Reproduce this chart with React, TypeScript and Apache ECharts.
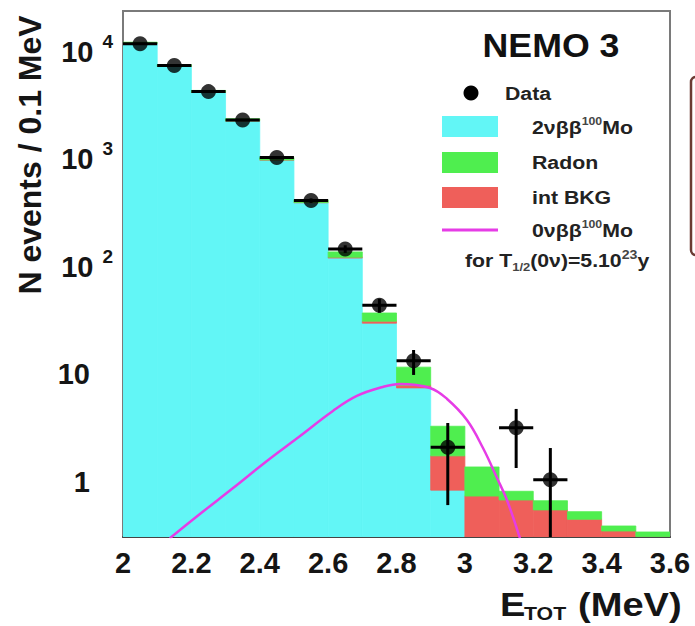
import React, { useEffect, useRef } from "react";
import * as echarts from "echarts";

// ---- Data ----
const binStart = [2.0, 2.1, 2.2, 2.3, 2.4, 2.5, 2.6, 2.7, 2.8, 2.9, 3.0, 3.1, 3.2, 3.3, 3.4, 3.5];
const BIN_W = 0.1;
// 2vbb 100Mo component (bottom of stack)
const mo2nu = [12000, 7350, 4200, 2280, 985, 395, 121, 30, 7.5, 0.84, 0, 0, 0, 0, 0, 0];
// internal background (middle of stack)
const intBkg = [20, 15, 10, 8, 5, 3, 2, 1.3, 0.46, 0.91, 0.74, 0.68, 0.55, 0.45, 0.35, 0.31];
// radon (top of stack)
const radon = [280, 235, 170, 100, 50, 22, 15, 6, 3.74, 1.55, 0.64, 0.14, 0.12, 0.08, 0.04, 0.033];

// Data points
const dataX = [2.05, 2.15, 2.25, 2.35, 2.45, 2.55, 2.65, 2.75, 2.85, 2.95, 3.15, 3.25];
const dataY = [11900, 7460, 4270, 2330, 1040, 414, 147, 44, 13.4, 2.1, 3.2, 1.05];
const dataLo = [11790, 7370, 4205, 2282, 1008, 394, 135, 37.5, 9.9, 0.61, 1.35, 0.1];
const dataHi = [12010, 7550, 4335, 2378, 1072, 434, 159, 50.6, 16.9, 3.54, 4.78, 2.07];

// 0vbb signal curve for T1/2 = 5e23 y
const sigX = [2.137, 2.225, 2.322, 2.421, 2.518, 2.614, 2.684, 2.76, 2.81, 2.898, 2.948, 3.006, 3.053, 3.094, 3.123, 3.161];
const sigY = [0.3, 0.504, 0.879, 1.57, 2.68, 4.58, 6.31, 7.65, 8.16, 7.49, 5.92, 3.77, 2.07, 1.09, 0.68, 0.3];

const X_MIN = 2;
const X_MAX = 3.6;
const X_STEP = 0.2;
const Y_MIN = 0.308;
const Y_MAX = 24000;

const FONT = "'Liberation Sans', Arial, Helvetica, sans-serif";
const C_CYAN = "#62f6f6";
const C_GREEN = "#4fee4f";
const C_RED = "#ef5f5a";
const C_MAG = "#e63ce6";

function stackRows(lower: number[], vals: number[]) {
  return binStart.map((x, i) => [x, x + BIN_W, lower[i], lower[i] + vals[i]]);
}

export default function App() {
  const ref = useRef<HTMLDivElement>(null);

  useEffect(() => {
    document.body.style.margin = "0";
    const chart = echarts.init(ref.current!, null, { renderer: "svg" });

    const base0 = binStart.map(() => Y_MIN);
    const cyanRows = stackRows(base0, mo2nu);
    const redRows = stackRows(mo2nu, intBkg);
    const greenBase = mo2nu.map((v, i) => v + intBkg[i]);
    const greenRows = stackRows(greenBase, radon);

    const histItem = (color: string) => (params: any, api: any) => {
      const x0 = api.value(0);
      const x1 = api.value(1);
      const lo = Math.max(api.value(2), Y_MIN);
      const hi = api.value(3);
      if (!(hi > lo)) return null;
      const p0 = api.coord([x0, lo]);
      const p1 = api.coord([x1, hi]);
      return {
        type: "rect",
        shape: { x: p0[0], y: p1[1], width: p1[0] - p0[0], height: p0[1] - p1[1] },
        style: { fill: color, stroke: color, lineWidth: 0.8 },
      };
    };

    const errRows = dataX.map((x, i) => [x, dataY[i], dataLo[i], dataHi[i]]);
    const errItem = (params: any, api: any) => {
      const x = api.value(0);
      const y = api.value(1);
      const lo = Math.max(api.value(2), Y_MIN);
      const hi = api.value(3);
      const pc = api.coord([x, y]);
      const pl = api.coord([x - BIN_W / 2, y]);
      const pr = api.coord([x + BIN_W / 2, y]);
      const pLo = api.coord([x, lo]);
      const pHi = api.coord([x, hi]);
      return {
        type: "group",
        children: [
          { type: "line", shape: { x1: pl[0], y1: pc[1], x2: pr[0], y2: pc[1] }, style: { stroke: "#000", lineWidth: 3 } },
          { type: "line", shape: { x1: pc[0], y1: pLo[1], x2: pc[0], y2: pHi[1] }, style: { stroke: "#000", lineWidth: 3 } },
        ],
      };
    };

    const legX = 442;
    const legTextX = 532;
    const legFont = `bold 19px ${FONT}`;
    const LEG_SX = 1.12;
    const TITLE_SX = 1.12;

    const option: any = {
      animation: false,
      backgroundColor: "#ffffff",
      grid: {
        left: 123,
        right: 25,
        top: 11,
        bottom: 89,
        show: true,
        borderColor: "#7a7a7a",
        borderWidth: 2,
        backgroundColor: "transparent",
      },
      xAxis: {
        type: "value",
        min: X_MIN,
        max: X_MAX,
        interval: X_STEP,
        axisLine: { show: true, lineStyle: { color: "#444", width: 2 } },
        axisTick: { show: false },
        splitLine: { show: false },
        axisLabel: {
          margin: 11,
          color: "#151515",
          fontSize: 29,
          fontWeight: "bold",
          fontFamily: FONT,
          formatter: (v: number) => String(Math.round(v * 10) / 10),
        },
      },
      yAxis: {
        type: "log",
        logBase: 10,
        min: Y_MIN,
        max: Y_MAX,
        axisLine: { show: false },
        axisTick: { show: false },
        splitLine: { show: false },
        axisLabel: {
          margin: 10,
          showMinLabel: false,
          showMaxLabel: false,
          color: "#151515",
          fontFamily: FONT,
          formatter: (v: number) => {
            const lg = Math.log10(v);
            const k = Math.round(lg);
            if (Math.abs(lg - k) > 1e-6) return "";
            if (k === 0) return "{b|1}{p| }";
            if (k === 1) return "{b|10}{p| }";
            return "{b|10}{s|" + k + "}";
          },
          rich: {
            b: { fontSize: 29, fontWeight: "bold", fontFamily: FONT, color: "#151515", lineHeight: 40 },
            s: {
              fontSize: 19,
              fontWeight: "bold",
              fontFamily: FONT,
              color: "#151515",
              lineHeight: 14,
              verticalAlign: "top",
              padding: [0, 0, 0, 9],
            },
            p: { fontSize: 19, width: 23, lineHeight: 14 },
          },
        },
      },
      series: [
        {
          name: "2vbb 100Mo",
          type: "custom",
          renderItem: histItem(C_CYAN),
          encode: { x: [0, 1], y: [2, 3] },
          data: cyanRows,
          z: 1,
          clip: true,
        },
        {
          name: "int BKG",
          type: "custom",
          renderItem: histItem(C_RED),
          encode: { x: [0, 1], y: [2, 3] },
          data: redRows,
          z: 1,
          clip: true,
        },
        {
          name: "Radon",
          type: "custom",
          renderItem: histItem(C_GREEN),
          encode: { x: [0, 1], y: [2, 3] },
          data: greenRows,
          z: 1,
          clip: true,
        },
        {
          name: "0vbb 100Mo",
          type: "line",
          data: sigX.map((x, i) => [x, sigY[i]]),
          smooth: 0.4,
          showSymbol: false,
          symbol: "none",
          clip: true,
          lineStyle: { color: C_MAG, width: 2.5 },
          z: 3,
        },
        {
          name: "Data errors",
          type: "custom",
          renderItem: errItem,
          encode: { x: 0, y: [1, 2, 3] },
          data: errRows,
          z: 4,
          clip: true,
        },
        {
          name: "Data",
          type: "scatter",
          data: dataX.map((x, i) => [x, dataY[i]]),
          symbol: "circle",
          symbolSize: 15,
          itemStyle: { color: "#000" },
          z: 5,
        },
      ],
      graphic: [
        // y-axis title
        {
          type: "text",
          x: 30,
          y: 155,
          rotation: Math.PI / 2,
          style: {
            text: "N events / 0.1 MeV",
            font: `bold 32px ${FONT}`,
            fill: "#151515",
            textAlign: "center",
            textVerticalAlign: "middle",
          },
        },
        // x-axis title: E, subscript TOT, (MeV)
        {
          type: "text",
          x: 500,
          y: 604,
          scaleX: TITLE_SX,
          style: { text: "E", font: `bold 34px ${FONT}`, fill: "#151515", textVerticalAlign: "middle" },
        },
        {
          type: "text",
          x: 524,
          y: 613,
          scaleX: TITLE_SX,
          style: { text: "TOT", font: `bold 19px ${FONT}`, fill: "#151515", textVerticalAlign: "middle" },
        },
        {
          type: "text",
          x: 578,
          y: 604,
          scaleX: TITLE_SX,
          style: { text: "(MeV)", font: `bold 34px ${FONT}`, fill: "#151515", textVerticalAlign: "middle" },
        },
        // NEMO 3
        {
          type: "text",
          x: 551,
          y: 45,
          scaleX: 1.05,
          style: {
            text: "NEMO 3",
            font: `bold 34px ${FONT}`,
            fill: "#111",
            textAlign: "center",
            textVerticalAlign: "middle",
          },
        },
        // legend: Data
        { type: "circle", shape: { cx: 471, cy: 93, r: 7.5 }, style: { fill: "#000" } },
        {
          type: "text",
          x: 505,
          y: 93,
          scaleX: LEG_SX,
          style: { text: "Data", font: legFont, fill: "#222", textVerticalAlign: "middle" },
        },
        // legend: 2vbb
        { type: "rect", shape: { x: legX, y: 116, width: 56, height: 21 }, style: { fill: C_CYAN } },
        {
          type: "text",
          x: legTextX,
          y: 127,
          scaleX: LEG_SX,
          style: {
            text: "{a|2νββ}{s|100}{a|Mo}",
            textVerticalAlign: "middle",
            rich: {
              a: { font: legFont, fill: "#222", lineHeight: 24 },
              s: { font: `bold 11px ${FONT}`, fill: "#444", lineHeight: 12, verticalAlign: "top" },
            },
          },
        },
        // legend: Radon
        { type: "rect", shape: { x: legX, y: 152, width: 56, height: 21 }, style: { fill: C_GREEN } },
        {
          type: "text",
          x: legTextX,
          y: 162,
          scaleX: LEG_SX,
          style: { text: "Radon", font: legFont, fill: "#222", textVerticalAlign: "middle" },
        },
        // legend: int BKG
        { type: "rect", shape: { x: legX, y: 187, width: 56, height: 21 }, style: { fill: C_RED } },
        {
          type: "text",
          x: legTextX,
          y: 197,
          scaleX: LEG_SX,
          style: { text: "int BKG", font: legFont, fill: "#222", textVerticalAlign: "middle" },
        },
        // legend: 0vbb
        {
          type: "line",
          shape: { x1: legX, y1: 230, x2: legX + 56, y2: 230 },
          style: { stroke: C_MAG, lineWidth: 3 },
        },
        {
          type: "text",
          x: legTextX,
          y: 230,
          scaleX: LEG_SX,
          style: {
            text: "{a|0νββ}{s|100}{a|Mo}",
            textVerticalAlign: "middle",
            rich: {
              a: { font: legFont, fill: "#222", lineHeight: 24 },
              s: { font: `bold 11px ${FONT}`, fill: "#444", lineHeight: 12, verticalAlign: "top" },
            },
          },
        },
        {
          type: "text",
          x: 465,
          y: 261,
          scaleX: 1.18,
          style: {
            text: "{a|for T}{d|1/2}{a|(0ν)=5.10}{s|23}{a|y}",
            textVerticalAlign: "middle",
            rich: {
              a: { font: `bold 18px ${FONT}`, fill: "#222", lineHeight: 24 },
              s: { font: `bold 12px ${FONT}`, fill: "#444", lineHeight: 12, verticalAlign: "top" },
              d: { font: `bold 11px ${FONT}`, fill: "#444", lineHeight: 10, verticalAlign: "bottom" },
            },
          },
        },
        // partial box at right edge
        {
          type: "rect",
          shape: { x: 691, y: 77, width: 40, height: 178, r: 5 },
          style: { fill: "#fff", stroke: "#6b3b33", lineWidth: 2.5 },
        },
      ],
    };

    chart.setOption(option);
    return () => chart.dispose();
  }, []);

  return <div ref={ref} style={{ width: 695, height: 626 }} />;
}
